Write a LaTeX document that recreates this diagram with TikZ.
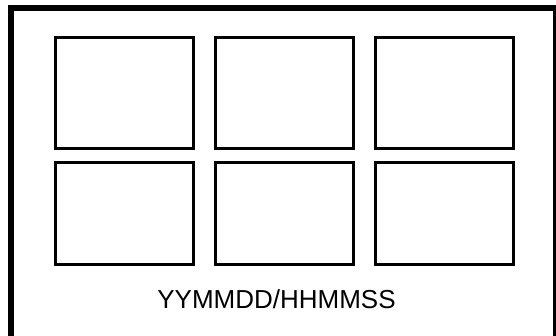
\documentclass[tikz,border=0pt]{standalone}
\usepackage{fontspec}
\setmainfont{Liberation Sans}
\usepackage{tikz}
\usetikzlibrary{positioning}

\begin{document}
\begin{tikzpicture}[
  x=1pt, y=-1pt,
  frame/.style={draw, line width=5.5pt},
  cell/.style={draw, line width=3pt, minimum width=138.5pt, inner sep=0pt},
  topcell/.style={cell, minimum height=111pt},
  botcell/.style={cell, minimum height=102.5pt},
  stamp/.style={font=\fontsize{26}{30}\selectfont, inner sep=0pt},
]

% ── Canvas ───────────────────────────────────────────────
\useasboundingbox (0,0) rectangle (556,336);
\fill[white] (0,0) rectangle (556,336);

% Outer frame (runs off the right and bottom edges)
\draw[frame] (11,8) rectangle (556,338.5);

% ── Grid of six cells ────────────────────────────────────
\def\colA{124.5}
\def\colB{284.25}
\def\colC{444.25}
\def\rowA{93}
\def\rowB{213.75}

\node[topcell] (c11) at (\colA,\rowA) {};
\node[topcell] (c12) at (\colB,\rowA) {};
\node[topcell] (c13) at (\colC,\rowA) {};

\node[botcell] (c21) at (\colA,\rowB) {};
\node[botcell] (c22) at (\colB,\rowB) {};
\node[botcell] (c23) at (\colC,\rowB) {};

% Time stamp
\node[stamp] (stamp) at (276.5,299.3) {YYMMDD/HHMMSS};

\end{tikzpicture}
\end{document}
